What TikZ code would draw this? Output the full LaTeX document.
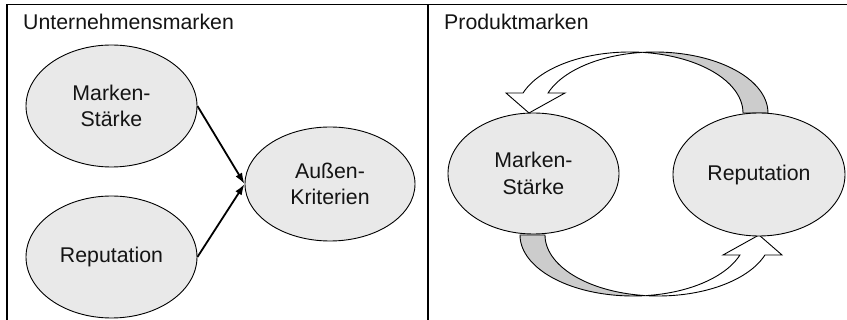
\documentclass[tikz,border=0pt]{standalone}
\usepackage{fontspec}
\setmainfont{Liberation Sans}
\usetikzlibrary{shapes.geometric,arrows.meta}
\definecolor{efill}{HTML}{E9E9E9}
\definecolor{bandgray}{HTML}{CCCCCC}
\newcommand\bandarrow{%
  \filldraw[band, fill=bandgray]
    plot[domain=263.66:360, samples=40] ({654.9+113.1*cos(\x)},{113+61*sin(\x)})
    -- plot[domain=360:276.34, samples=40] ({629.9+113.1*cos(\x)},{113+61*sin(\x)})
    -- cycle;
  \filldraw[band, fill=white]
    plot[domain=199.14:276.34, samples=40] ({629.9+113.1*cos(\x)},{113+61*sin(\x)})
    -- plot[domain=263.66:199.14, samples=40] ({654.9+113.1*cos(\x)},{113+61*sin(\x)})
    -- (565,93) -- (529,113) -- (506,93) -- cycle;
}
\begin{document}
\begin{tikzpicture}[x=1pt,y=-1pt,
  every node/.style={font=\fontsize{21.3}{26.5}\selectfont, text=black!92},
  bubble/.style={ellipse, draw=black, line width=0.9pt, fill=efill, inner sep=0pt, align=center},
  frameline/.style={line width=1.4pt, draw=black},
  linkarrow/.style={line width=1.8pt, draw=black, -{Latex[length=11pt,width=7.5pt]}},
  band/.style={draw=black, line width=0.9pt, line join=miter}]
\useasboundingbox (0,0) rectangle (847,320);
\draw[frameline] (7,320) -- (7,4.5) -- (847,4.5);
\draw[frameline] (428,4.5) -- (428,320);

\bandarrow
\begin{scope}[rotate around={180:(644,174)}]
  \bandarrow
\end{scope}

\node[anchor=base west, inner sep=0pt] (t1) at (23,30) {Unternehmensmarken};
\node[anchor=base west, inner sep=0pt] (t2) at (444,30) {Produktmarken};

\node[bubble, minimum width=171pt, minimum height=122pt] (ms1) at (111.5,106) {Marken-\\Stärke};
\node[bubble, minimum width=171pt, minimum height=122pt] (rep1) at (111.5,257) {Reputation};
\node[bubble, minimum width=170pt, minimum height=114pt] (ak) at (330,184) {Außen-\\Kriterien};
\node[bubble, minimum width=171pt, minimum height=121pt] (ms2) at (533.5,173.5) {Marken-\\Stärke};
\node[bubble, minimum width=172pt, minimum height=123pt] (rep2) at (759,174.5) {Reputation};

\draw[linkarrow] (ms1.east) -- (ak.west);
\draw[linkarrow] (rep1.east) -- (ak.west);
\end{tikzpicture}
\end{document}
